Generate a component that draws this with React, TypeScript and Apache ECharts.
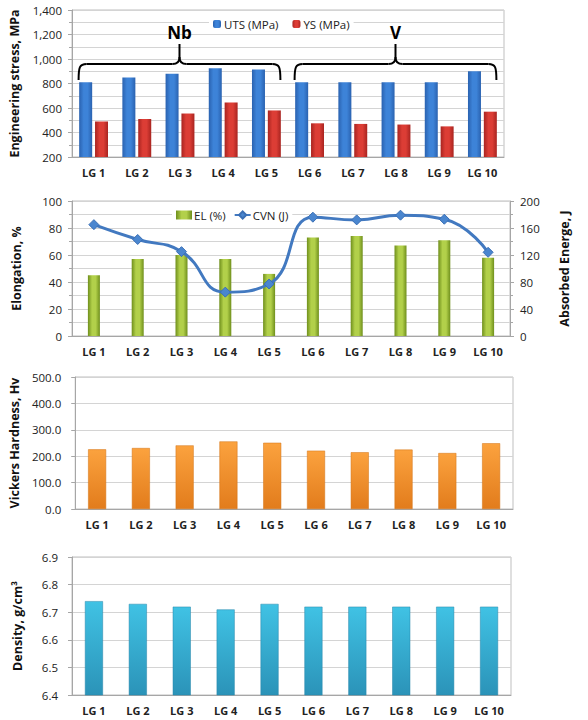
import React, { useEffect, useRef } from "react";
import * as echarts from "echarts";

const categories = ["LG 1", "LG 2", "LG 3", "LG 4", "LG 5", "LG 6", "LG 7", "LG 8", "LG 9", "LG 10"];
const utsValues = [810, 850, 880, 925, 915, 810, 810, 810, 810, 900];
const ysValues = [490, 510, 555, 645, 580, 475, 470, 465, 450, 570];
const elValues = [45, 57, 60, 57, 46, 73, 74, 67, 71, 58];
const cvnValues = [165, 143, 125, 65, 77, 176, 172, 179, 173, 124];
const hardnessValues = [226, 231, 241, 256, 251, 221, 215, 225, 212, 249];
const densityValues = [6.74, 6.73, 6.72, 6.71, 6.73, 6.72, 6.72, 6.72, 6.72, 6.72];
const groupLabels = ["Nb", "V"];

const FONT = "'Open Sans', 'Noto Sans', sans-serif";

function hGrad(edge: string, mid: string) {
  return new echarts.graphic.LinearGradient(0, 0, 1, 0, [
    { offset: 0, color: edge },
    { offset: 0.35, color: mid },
    { offset: 0.65, color: mid },
    { offset: 1, color: edge },
  ]);
}
function vGrad(top: string, bottom: string) {
  return new echarts.graphic.LinearGradient(0, 0, 0, 1, [
    { offset: 0, color: top },
    { offset: 1, color: bottom },
  ]);
}

const gridColor = "#d4d4d4";
const axisColor = "#a6a6a6";
const LABEL_SIZE = 11.5;

function xAxis(gridIndex: number) {
  return {
    type: "category",
    gridIndex,
    data: categories,
    axisLine: { show: true, lineStyle: { color: axisColor } },
    axisTick: { show: false },
    axisLabel: { fontFamily: FONT, fontWeight: "bold", fontSize: 11, color: "#222", margin: 10 },
  };
}

function yBase(gridIndex: number, name: string, nameGap: number) {
  return {
    type: "value",
    gridIndex,
    name,
    nameLocation: "middle",
    nameRotate: 90,
    nameGap,
    nameTextStyle: { fontFamily: FONT, fontWeight: "bold", fontSize: 12.5, color: "#111" },
    axisLine: { show: true, lineStyle: { color: axisColor } },
    axisTick: { show: true, length: 4, lineStyle: { color: axisColor } },
    axisLabel: { fontFamily: FONT, fontSize: LABEL_SIZE, color: "#222", margin: 10 },
    splitLine: { show: true, lineStyle: { color: gridColor } },
  };
}

export default function App() {
  const ref = useRef<HTMLDivElement>(null);
  useEffect(() => {
    if (!ref.current) return;
    const chart = echarts.init(ref.current, undefined, { renderer: "svg" });
    const gridStyle = { show: true, borderColor: "#bfbfbf", borderWidth: 1, backgroundColor: "transparent" };
    const option: any = {
      animation: false,
      backgroundColor: "#fff",
      textStyle: { fontFamily: FONT },
      grid: [
        { left: 72, right: 84, top: 10, height: 147, ...gridStyle },
        { left: 72, right: 78, top: 201, height: 135, ...gridStyle },
        { left: 72, right: 75, top: 377, height: 132, ...gridStyle },
        { left: 72, right: 77, top: 557, height: 138, ...gridStyle },
      ],
      legend: [
        {
          data: ["UTS (MPa)", "YS (MPa)"],
          left: 209,
          top: 16,
          itemWidth: 8,
          itemHeight: 8,
          itemGap: 14,
          padding: [2, 4],
          backgroundColor: "#fff",
          textStyle: { fontFamily: FONT, fontSize: 11.5, color: "#222", padding: [0, 0, 0, -2] },
        },
        {
          data: [
            { name: "EL (%)", icon: "rect" },
            { name: "CVN (J)" },
          ],
          left: 172,
          top: 207,
          itemWidth: 16,
          itemHeight: 9,
          itemGap: 8,
          padding: [2, 4],
          backgroundColor: "#fff",
          textStyle: { fontFamily: FONT, fontSize: 11.5, color: "#222", padding: [0, 0, 0, -3] },
        },
      ],
      xAxis: [xAxis(0), xAxis(1), xAxis(2), xAxis(3)],
      yAxis: [
        {
          ...yBase(0, "Engineering stress, MPa", 51),
          min: 200,
          max: 1400,
          interval: 200,
          minorTick: { show: true, splitNumber: 2, length: 3, lineStyle: { color: axisColor } },
          minorSplitLine: { show: true, lineStyle: { color: gridColor } },
          axisLabel: {
            fontFamily: FONT,
            fontSize: LABEL_SIZE,
            color: "#222",
            margin: 10,
            formatter: (v: number) => v.toLocaleString("en-US"),
          },
        },
        {
          ...yBase(1, "Elongation, %", 49),
          min: 0,
          max: 100,
          interval: 20,
          minorTick: { show: true, splitNumber: 2, length: 3, lineStyle: { color: axisColor } },
          minorSplitLine: { show: true, lineStyle: { color: gridColor } },
        },
        {
          ...yBase(1, "Absorbed Energe, J", 48),
          position: "right",
          min: 0,
          max: 200,
          interval: 40,
          splitLine: { show: false },
          minorTick: { show: true, splitNumber: 2, length: 3, lineStyle: { color: axisColor } },
        },
        {
          ...yBase(2, "Vickers Hardness, Hv", 48),
          min: 0,
          max: 500,
          interval: 100,
          axisLabel: {
            fontFamily: FONT,
            fontSize: LABEL_SIZE,
            color: "#222",
            margin: 14,
            formatter: (v: number) => v.toFixed(1),
          },
        },
        {
          ...yBase(3, "Density, g/cm\u00B3", 48),
          min: 6.4,
          max: 6.9,
          interval: 0.1,
          axisLabel: {
            fontFamily: FONT,
            fontSize: LABEL_SIZE,
            color: "#222",
            margin: 14,
            formatter: (v: number) => v.toFixed(1),
          },
        },
      ],
      series: [
        {
          name: "UTS (MPa)",
          type: "bar",
          xAxisIndex: 0,
          yAxisIndex: 0,
          data: utsValues,
          barWidth: 13,
          barGap: "22%",
          itemStyle: { color: hGrad("#2a62b0", "#3d83d8") },
        },
        {
          name: "YS (MPa)",
          type: "bar",
          xAxisIndex: 0,
          yAxisIndex: 0,
          data: ysValues,
          barWidth: 13,
          itemStyle: { color: hGrad("#a82420", "#dc3d35") },
        },
        {
          name: "EL (%)",
          type: "bar",
          xAxisIndex: 1,
          yAxisIndex: 1,
          data: elValues,
          barWidth: 12,
          itemStyle: { color: hGrad("#6f8f1c", "#b2d04a") },
        },
        {
          name: "CVN (J)",
          type: "line",
          xAxisIndex: 1,
          yAxisIndex: 2,
          data: cvnValues,
          smooth: 0.5,
          symbol: "diamond",
          symbolSize: 10,
          lineStyle: { color: "#4279c0", width: 3 },
          itemStyle: { color: "#4a86cf", borderColor: "#3a6fb5", borderWidth: 1 },
        },
        {
          name: "Vickers",
          type: "bar",
          xAxisIndex: 2,
          yAxisIndex: 3,
          data: hardnessValues,
          barWidth: 18,
          itemStyle: { color: vGrad("#fba23e", "#e27c1c"), borderColor: "#d27315", borderWidth: 0.5 },
        },
        {
          name: "Density",
          type: "bar",
          xAxisIndex: 3,
          yAxisIndex: 4,
          data: densityValues,
          barWidth: 18,
          itemStyle: { color: vGrad("#40c2e4", "#2b93b8"), borderColor: "#2585a8", borderWidth: 0.5 },
        },
      ],
    };
    chart.setOption(option);

    // Braces above groups (annotation), positioned from category pixels
    const px = (i: number) => chart.convertToPixel({ xAxisIndex: 0 }, categories[i]) as number;
    const groups = [
      { label: groupLabels[0], from: 0, to: 4 },
      { label: groupLabels[1], from: 5, to: 9 },
    ];
    const yTip = 44;
    const yMid = 64;
    const yEnd = 80;
    const stroke = { stroke: "#000", lineWidth: 2, fill: "none" };
    const elements: any[] = [];
    groups.forEach((g) => {
      const x0 = px(g.from) - 15;
      const x1 = px(g.to) + 14;
      const c = (x0 + x1) / 2;
      elements.push(
        { type: "bezierCurve", shape: { x1: x0, y1: yEnd, cpx1: x0, cpy1: yMid + 3, cpx2: x0 + 1, cpy2: yMid, x2: x0 + 8, y2: yMid }, style: stroke },
        { type: "line", shape: { x1: x0 + 8, y1: yMid, x2: c - 7, y2: yMid }, style: stroke },
        { type: "bezierCurve", shape: { x1: c - 7, y1: yMid, cpx1: c - 2, cpy1: yMid, cpx2: c, cpy2: yMid - 2, x2: c, y2: yMid - 7 }, style: stroke },
        { type: "line", shape: { x1: c, y1: yMid - 7, x2: c, y2: yTip }, style: stroke },
        { type: "bezierCurve", shape: { x1: c, y1: yMid - 7, cpx1: c, cpy1: yMid - 2, cpx2: c + 2, cpy2: yMid, x2: c + 7, y2: yMid }, style: stroke },
        { type: "line", shape: { x1: c + 7, y1: yMid, x2: x1 - 8, y2: yMid }, style: stroke },
        { type: "bezierCurve", shape: { x1: x1 - 8, y1: yMid, cpx1: x1 - 1, cpy1: yMid, cpx2: x1, cpy2: yMid + 3, x2: x1, y2: yEnd }, style: stroke },
        {
          type: "text",
          x: c,
          y: 32,
          style: {
            text: g.label,
            fontFamily: FONT,
            fontSize: 17,
            fontWeight: "bold",
            fill: "#000",
            align: "center",
            verticalAlign: "middle",
          },
        }
      );
    });
    chart.setOption({ graphic: elements });

    return () => chart.dispose();
  }, []);
  return (
    <div
      ref={ref}
      style={{ position: "fixed", left: 0, top: 0, width: 588, height: 720, background: "#fff" }}
    />
  );
}
